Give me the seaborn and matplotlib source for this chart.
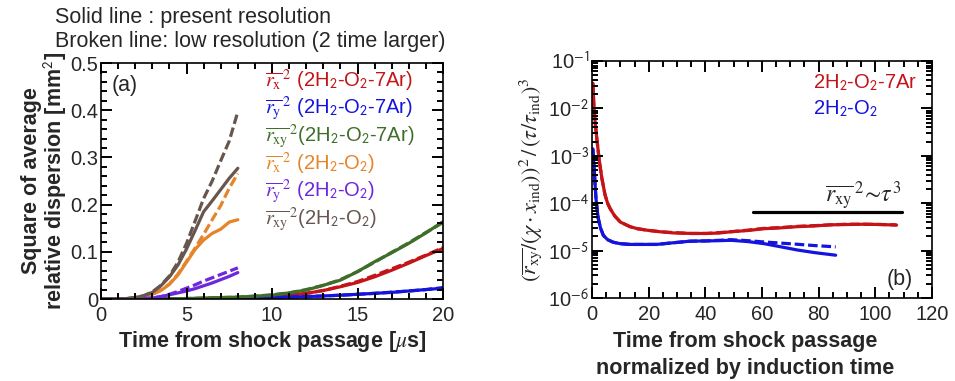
import numpy as np
import pandas as pd
import matplotlib
matplotlib.use("Agg")
import matplotlib.pyplot as plt
from matplotlib.ticker import MultipleLocator, LogLocator, NullFormatter
import seaborn as sns

# ---------------- panel (a): dispersion vs time [us] ----------------
t_short = [0, 0.5, 1, 1.5, 2, 2.5, 3, 3.5, 4, 4.5, 5, 5.5, 6, 6.5, 7, 7.5, 8]
rxy2_h2o2 = [0, 0, 0, 0.001, 0.003, 0.007, 0.014, 0.028, 0.047, 0.072, 0.106,
             0.145, 0.185, 0.208, 0.232, 0.256, 0.277]
rxy2_h2o2_low = [0, 0, 0, 0.001, 0.003, 0.007, 0.015, 0.029, 0.049, 0.078, 0.118,
                 0.165, 0.213, 0.250, 0.293, 0.335, 0.397]
rx2_h2o2 = [0, 0, 0, 0.0005, 0.002, 0.005, 0.010, 0.018, 0.031, 0.051, 0.078,
            0.105, 0.125, 0.139, 0.148, 0.163, 0.168]
rx2_h2o2_low = [0, 0, 0, 0.0005, 0.002, 0.005, 0.010, 0.019, 0.032, 0.053, 0.080,
                0.108, 0.137, 0.168, 0.198, 0.235, 0.266]
ry2_h2o2 = [0, 0, 0, 0, 0, 0.0005, 0.002, 0.005, 0.009, 0.013, 0.017,
            0.022, 0.028, 0.034, 0.041, 0.048, 0.056]
ry2_h2o2_low = [0, 0, 0, 0, 0, 0.0005, 0.002, 0.005, 0.010, 0.016, 0.023,
                0.030, 0.038, 0.045, 0.052, 0.059, 0.066]

t_long = list(range(0, 21))
rxy2_ar = [0, 0, 0, 0, 0.0005, 0.001, 0.002, 0.003, 0.004, 0.006, 0.008,
           0.013, 0.019, 0.029, 0.040, 0.058, 0.079, 0.098, 0.118, 0.140, 0.164]
rxy2_ar_low = [0, 0, 0, 0, 0.0005, 0.001, 0.002, 0.003, 0.004, 0.006, 0.009,
               0.013, 0.020, 0.029, 0.041, 0.058, 0.078, 0.099, 0.119, 0.141, 0.162]
rx2_ar = [0, 0, 0, 0, 0, 0.0005, 0.001, 0.0015, 0.002, 0.003, 0.005,
          0.008, 0.012, 0.018, 0.026, 0.035, 0.047, 0.061, 0.076, 0.092, 0.107]
rx2_ar_low = [0, 0, 0, 0, 0, 0.0005, 0.001, 0.0015, 0.002, 0.003, 0.005,
              0.008, 0.012, 0.018, 0.027, 0.037, 0.050, 0.064, 0.078, 0.093, 0.109]
ry2_ar = [0, 0, 0, 0, 0, 0, 0.0005, 0.001, 0.0015, 0.002, 0.003,
          0.004, 0.005, 0.0065, 0.008, 0.010, 0.012, 0.014, 0.017, 0.020, 0.023]
ry2_ar_low = [0, 0, 0, 0, 0, 0, 0.0005, 0.001, 0.0015, 0.002, 0.003,
              0.004, 0.005, 0.0065, 0.008, 0.010, 0.012, 0.0145, 0.017, 0.020, 0.024]

# ---------------- panel (b): normalised dispersion ----------------
tn_ar = [0.3, 0.7, 1.2, 1.7, 2.3, 2.8, 3.5, 4.6, 5.5, 6.4, 8, 10, 13.4, 16, 19.3,
         24, 28.7, 35, 40.5, 45, 49, 55, 60.8, 66, 72.5, 78, 84.3, 90, 96, 102, 107.5]
norm_ar = [3.4e-2, 1.0e-2, 4.5e-3, 2.3e-3, 1.1e-3, 6.3e-4, 3.3e-4, 1.5e-4, 1.0e-4,
           7.7e-5, 5.4e-5, 4.0e-5, 3.2e-5, 2.9e-5, 2.7e-5, 2.5e-5, 2.36e-5, 2.3e-5,
           2.3e-5, 2.35e-5, 2.5e-5, 2.65e-5, 2.9e-5, 3.0e-5, 3.2e-5, 3.3e-5, 3.5e-5,
           3.55e-5, 3.6e-5, 3.55e-5, 3.45e-5]
norm_ar_low = [3.4e-2, 1.0e-2, 4.5e-3, 2.3e-3, 1.1e-3, 6.3e-4, 3.3e-4, 1.5e-4, 1.0e-4,
               7.7e-5, 5.4e-5, 4.0e-5, 3.2e-5, 2.9e-5, 2.7e-5, 2.5e-5, 2.4e-5, 2.3e-5,
               2.3e-5, 2.4e-5, 2.5e-5, 2.7e-5, 2.95e-5, 3.05e-5, 3.25e-5, 3.35e-5, 3.5e-5,
               3.6e-5, 3.6e-5, 3.55e-5, 3.5e-5]
tn_h2 = [0.3, 0.7, 1.0, 1.4, 1.8, 2.2, 3, 4, 5.5, 7.5, 10, 13.4, 17, 22.8, 28, 34.6,
         40, 45, 49, 55, 60.8, 66.7, 72.5, 78.4, 86]
norm_h2 = [1.4e-3, 6.3e-4, 3.0e-4, 1.26e-4, 7.5e-5, 4.8e-5, 3.0e-5, 2.1e-5, 1.7e-5,
           1.5e-5, 1.4e-5, 1.35e-5, 1.35e-5, 1.35e-5, 1.45e-5, 1.58e-5, 1.6e-5, 1.62e-5,
           1.65e-5, 1.55e-5, 1.4e-5, 1.2e-5, 1.03e-5, 9.1e-6, 8.0e-6]
norm_h2_low = [1.4e-3, 6.3e-4, 3.0e-4, 1.26e-4, 7.5e-5, 4.8e-5, 3.0e-5, 2.1e-5, 1.7e-5,
               1.5e-5, 1.4e-5, 1.35e-5, 1.35e-5, 1.35e-5, 1.45e-5, 1.58e-5, 1.6e-5, 1.65e-5,
               1.7e-5, 1.62e-5, 1.52e-5, 1.44e-5, 1.36e-5, 1.28e-5, 1.2e-5]
tau3_x = [57, 109.5]
tau3_y = [6.6e-5, 6.6e-5]

RED = "#c41418"
BLUE = "#1414dc"
GREEN = "#3f6e2a"
ORANGE = "#e6842a"
PURPLE = "#6e28dc"
BROWN = "#66564e"

FS = 15.5      # general text
FS_LEG = 14.5  # coloured series labels
FS_TICK = 14.5

sns.set_style("ticks")
plt.rcParams["font.family"] = ["Liberation Sans", "DejaVu Sans"]
plt.rcParams["mathtext.fontset"] = "stix"

fig = plt.figure(figsize=(9.55, 3.81), dpi=100)
ax_a = fig.add_axes([0.1058, 0.2152, 0.3581, 0.6194])
ax_b = fig.add_axes([0.6199, 0.2178, 0.3560, 0.6222])

LW = 2.3
DASH = (3.0, 1.2)


def draw(ax, x, y, color, dashed=False):
    sns.lineplot(x=x, y=y, ax=ax, color=color, lw=LW)
    if dashed:
        ax.lines[-1].set_dashes(DASH)


# panel (a)
for ys, ysl, c in [(rx2_ar, rx2_ar_low, RED), (ry2_ar, ry2_ar_low, BLUE),
                   (rxy2_ar, rxy2_ar_low, GREEN)]:
    draw(ax_a, t_long, ysl, c, dashed=True)
    draw(ax_a, t_long, ys, c)
for ys, ysl, c in [(rx2_h2o2, rx2_h2o2_low, ORANGE), (ry2_h2o2, ry2_h2o2_low, PURPLE),
                   (rxy2_h2o2, rxy2_h2o2_low, BROWN)]:
    draw(ax_a, t_short, ysl, c, dashed=True)
    draw(ax_a, t_short, ys, c)

ax_a.set_xlim(0, 20)
ax_a.set_ylim(0, 0.5)
ax_a.xaxis.set_major_locator(MultipleLocator(5))
ax_a.xaxis.set_minor_locator(MultipleLocator(1))
ax_a.yaxis.set_minor_locator(MultipleLocator(0.02))
ax_a.set_yticks([0, 0.1, 0.2, 0.3, 0.4, 0.5])
ax_a.set_yticklabels(["0", "0.1", "0.2", "0.3", "0.4", "0.5"])
ax_a.set_xlabel(r"Time from shock passage [$\mu$s]", fontsize=FS, fontweight="bold",
                labelpad=3)
ax_a.set_ylabel("Square of average\nrelative dispersion [mm$^\\mathsf{2}$]", fontsize=FS,
                fontweight="bold", labelpad=1, linespacing=1.0)
ax_a.text(0.03, 0.95, "(a)", transform=ax_a.transAxes, fontsize=FS, va="top")

sub2 = r"$_\mathsf{2}$"
legend_rows = [
    (r"$\overline{r_\mathrm{x}}^{\,2}$ (2H" + sub2 + "-O" + sub2 + "-7Ar)", RED),
    (r"$\overline{r_\mathrm{y}}^{\,2}$ (2H" + sub2 + "-O" + sub2 + "-7Ar)", BLUE),
    (r"$\overline{r_\mathrm{xy}}^{\,2}$(2H" + sub2 + "-O" + sub2 + "-7Ar)", GREEN),
    (r"$\overline{r_\mathrm{x}}^{\,2}$ (2H" + sub2 + "-O" + sub2 + ")", ORANGE),
    (r"$\overline{r_\mathrm{y}}^{\,2}$ (2H" + sub2 + "-O" + sub2 + ")", PURPLE),
    (r"$\overline{r_\mathrm{xy}}^{\,2}$(2H" + sub2 + "-O" + sub2 + ")", BROWN),
]
for i, (txt, c) in enumerate(legend_rows):
    ax_a.text(0.478, 0.925 - i * 0.118, txt, transform=ax_a.transAxes, color=c,
              fontsize=FS_LEG, va="center", ha="left")

# panel (b)
draw(ax_b, tn_ar, norm_ar_low, RED, dashed=True)
draw(ax_b, tn_ar, norm_ar, RED)
draw(ax_b, tn_h2, norm_h2_low, BLUE, dashed=True)
draw(ax_b, tn_h2, norm_h2, BLUE)
draw(ax_b, tau3_x, tau3_y, "black")

ax_b.set_yscale("log")
ax_b.set_xlim(0, 120)
ax_b.set_ylim(1e-6, 1e-1)
ax_b.xaxis.set_major_locator(MultipleLocator(20))
ax_b.xaxis.set_minor_locator(MultipleLocator(5))
ax_b.yaxis.set_minor_locator(LogLocator(base=10, subs=np.arange(2, 10), numticks=20))
ax_b.yaxis.set_minor_formatter(NullFormatter())
ax_b.set_yticks([1e-6, 1e-5, 1e-4, 1e-3, 1e-2, 1e-1])
ax_b.set_yticklabels([r"10$^{\mathsf{-%d}}$" % k for k in (6, 5, 4, 3, 2, 1)])
ax_b.set_xlabel("Time from shock passage\nnormalized by induction time", fontsize=FS,
                fontweight="bold", linespacing=1.35)
ax_b.xaxis.set_label_coords(0.45, -0.14)
ax_b.xaxis.label.set_va("top")
ax_b.set_ylabel(r"$(\overline{r_\mathrm{xy}}/(\chi\cdot x_\mathrm{ind}))^2\,/\,(\tau/\tau_\mathrm{ind})^3$",
                fontsize=16, labelpad=2)
ax_b.text(0.65, 0.91, "2H" + sub2 + "-O" + sub2 + "-7Ar", transform=ax_b.transAxes,
          color=RED, fontsize=FS_LEG, va="center")
ax_b.text(0.65, 0.80, "2H" + sub2 + "-O" + sub2, transform=ax_b.transAxes,
          color=BLUE, fontsize=FS_LEG, va="center")
ax_b.text(0.685, 0.43, r"$\overline{r_\mathrm{xy}}^{\,2}\!\sim\!\tau^3$",
          transform=ax_b.transAxes, fontsize=17, va="center")
ax_b.text(0.945, 0.08, "(b)", transform=ax_b.transAxes, fontsize=FS, ha="right",
          va="center")

for ax in (ax_a, ax_b):
    ax.set_axisbelow(False)
    ax.tick_params(which="both", direction="in", top=True, right=True,
                   width=1.4, color="black")
    ax.tick_params(which="major", length=8)
    ax.tick_params(which="minor", length=4.5)
    ax.tick_params(labelsize=FS_TICK)
    ax.tick_params(axis="x", which="major", pad=5)
    ax.tick_params(axis="y", which="major", pad=2)
    for s in ax.spines.values():
        s.set_linewidth(1.2)
        s.set_color("black")
        s.set_zorder(3)

fig.text(0.0576, 0.955, "Solid line : present resolution", fontsize=FS, va="center")
fig.text(0.0576, 0.892, "Broken line: low resolution (2 time larger)", fontsize=FS,
         va="center")

fig.savefig("out.png", dpi=100)
